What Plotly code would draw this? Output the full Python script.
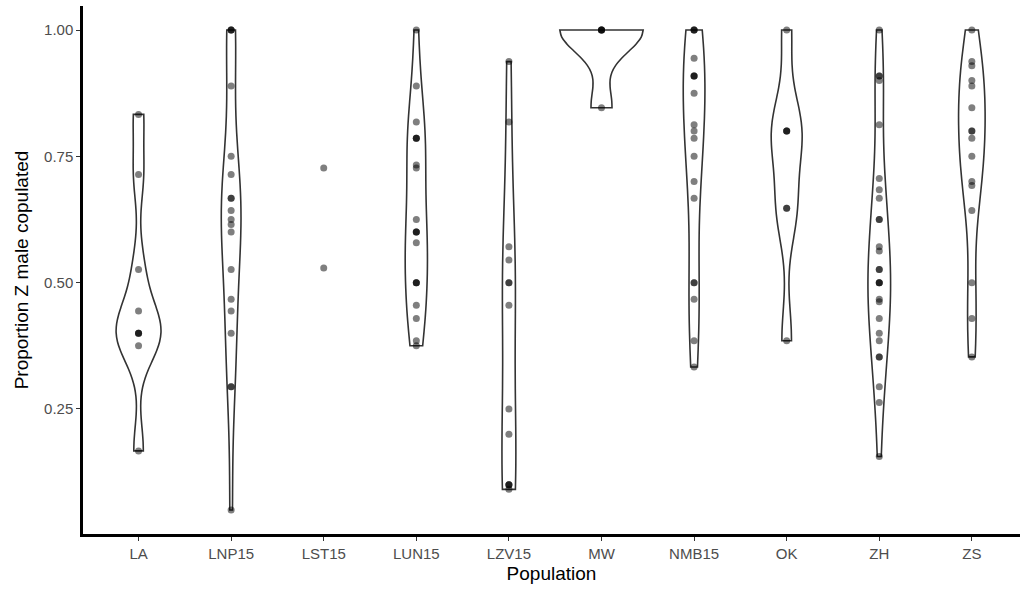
import numpy as np
import plotly.graph_objects as go

# Proportion of trials in which the Z male copulated, per population
populations = ["LA", "LNP15", "LST15", "LUN15", "LZV15", "MW", "NMB15", "OK", "ZH", "ZS"]

la = [0.833, 0.714, 0.526, 0.444, 0.4, 0.4, 0.4, 0.375, 0.167]
lnp15 = [1.0, 1.0, 1.0, 0.889, 0.75, 0.714, 0.667, 0.667, 0.643, 0.625, 0.615,
         0.6, 0.526, 0.467, 0.444, 0.4, 0.294, 0.294, 0.05]
lst15 = [0.727, 0.529]
lun15 = [1.0, 0.889, 0.818, 0.786, 0.786, 0.786, 0.733, 0.727, 0.625, 0.6, 0.6, 0.6,
         0.579, 0.5, 0.5, 0.5, 0.455, 0.429, 0.385, 0.375]
lzv15 = [0.9375, 0.818, 0.571, 0.545, 0.5, 0.5, 0.455, 0.25, 0.2, 0.1, 0.1, 0.1, 0.0909]
mw = [1.0, 1.0, 1.0, 1.0, 0.846]
nmb15 = [1.0, 1.0, 1.0, 0.944, 0.909, 0.909, 0.909, 0.875, 0.8125, 0.8, 0.786, 0.75,
         0.7, 0.667, 0.5, 0.5, 0.467, 0.385, 0.333]
ok = [1.0, 0.8, 0.8, 0.8, 0.647, 0.647, 0.385]
zh = [1.0, 0.909, 0.909, 0.9, 0.8125, 0.706, 0.684, 0.667, 0.625, 0.625, 0.571, 0.5625,
      0.526, 0.526, 0.5, 0.5, 0.5, 0.467, 0.462, 0.429, 0.4, 0.385, 0.353, 0.353,
      0.294, 0.263, 0.156]
zs = [1.0, 0.9375, 0.929, 0.9, 0.889, 0.846, 0.8, 0.8, 0.786, 0.75, 0.7, 0.692,
      0.643, 0.5, 0.429, 0.353]

groups = [la, lnp15, lst15, lun15, lzv15, mw, nmb15, ok, zh, zs]
y_ticks = [0.25, 0.50, 0.75, 1.00]
y_tick_labels = ["0.25", "0.50", "0.75", "1.00"]


def nrd0(x):
    """Silverman's rule of thumb as in R's bw.nrd0."""
    x = np.asarray(x, dtype=float)
    hi = np.std(x, ddof=1)
    q75, q25 = np.percentile(x, [75, 25])
    lo = min(hi, (q75 - q25) / 1.34)
    if lo == 0:
        lo = hi or abs(x[0]) or 1.0
    return 0.9 * lo * len(x) ** -0.2


def peak_density(x, bw, n=512):
    """Maximum of the normalised Gaussian KDE over the data range."""
    x = np.asarray(x, dtype=float)
    grid = np.linspace(x.min(), x.max(), n)
    z = (grid[:, None] - x[None, :]) / bw
    dens = np.exp(-0.5 * z ** 2).mean(axis=1) / (bw * np.sqrt(2 * np.pi))
    return dens.max()


# equal-area violins: each violin's widest point is proportional to its peak density
violin_groups = [(p, g) for p, g in zip(populations, groups) if len(g) >= 3]
bws = {p: nrd0(g) for p, g in violin_groups}
peaks = {p: peak_density(g, bws[p]) for p, g in violin_groups}
top_peak = max(peaks.values())

fig = go.Figure()

for name, vals in violin_groups:
    fig.add_trace(go.Violin(
        x=[name] * len(vals), y=vals, name=name,
        bandwidth=bws[name], spanmode="hard",
        scalegroup=name, scalemode="width",
        width=0.9 * peaks[name] / top_peak,
        points=False, fillcolor="white",
        line=dict(color="#333333", width=1.6),
        box=dict(visible=False), meanline=dict(visible=False),
        hoverinfo="skip", showlegend=False,
    ))

# raw observations on top
for name, vals in zip(populations, groups):
    fig.add_trace(go.Scatter(
        x=[name] * len(vals), y=vals, mode="markers",
        marker=dict(size=7, color="rgba(0,0,0,0.5)", line=dict(width=0)),
        hoverinfo="y", showlegend=False,
    ))

all_vals = np.concatenate([np.asarray(g, dtype=float) for g in groups])
lo, hi = all_vals.min(), all_vals.max()
pad = 0.05 * (hi - lo)

font_family = "Liberation Sans, Arial, sans-serif"
fig.update_layout(
    width=1020, height=590,
    margin=dict(l=83, r=0, t=6, b=56),
    plot_bgcolor="white", paper_bgcolor="white",
    violinmode="overlay",
    font=dict(family=font_family),
)
fig.update_xaxes(
    type="category", categoryorder="array", categoryarray=populations,
    range=[-0.6, 9.52],
    showline=True, linecolor="black", linewidth=2.5,
    ticks="outside", ticklen=4, tickwidth=1.2, tickcolor="#333333",
    tickfont=dict(size=15, color="#4d4d4d"),
    showgrid=False, zeroline=False,
    title=dict(text="Population", font=dict(size=19, color="black"), standoff=6),
)
fig.update_yaxes(
    range=[lo - pad, hi + pad],
    tickvals=y_ticks, ticktext=y_tick_labels,
    showline=True, linecolor="black", linewidth=2.5,
    ticks="outside", ticklen=4, tickwidth=1.2, tickcolor="#333333",
    tickfont=dict(size=15, color="#4d4d4d"),
    showgrid=False, zeroline=False,
    title=dict(text="Proportion Z male copulated", font=dict(size=19, color="black"), standoff=11),
)

fig.write_html("out.html")
